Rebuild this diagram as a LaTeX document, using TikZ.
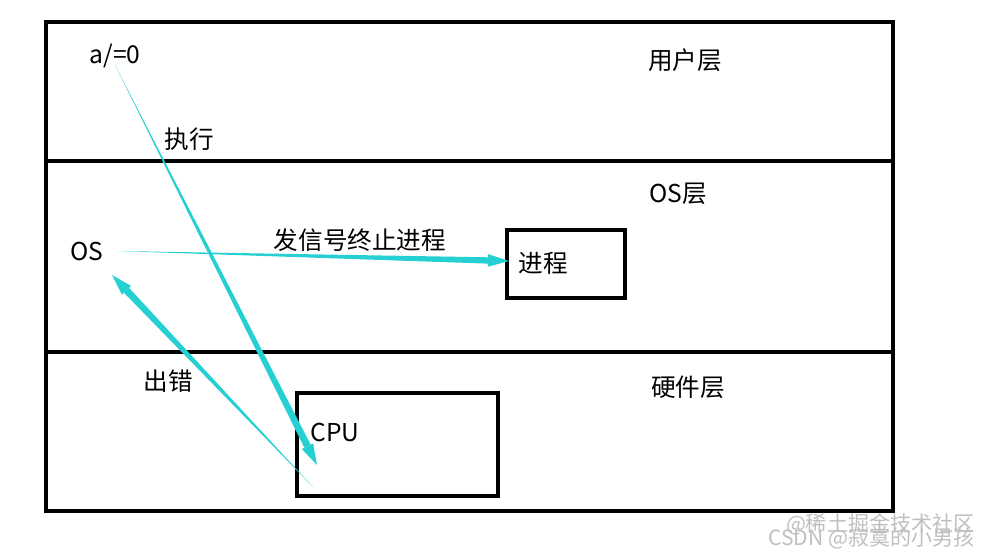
\documentclass[tikz,border=0pt]{standalone}
\usepackage{fontspec}
\setmainfont{Noto Sans}
\newfontfamily\cjk{Noto Sans CJK SC}
\usetikzlibrary{calc}
\definecolor{arrowcyan}{RGB}{38,208,210}
\tikzset{
  layer/.style={draw=black, line width=2.3pt},
  lbl/.style={font=\cjk\fontsize{14}{16}\selectfont, inner sep=1pt},
  wmark/.style={font=\cjk\fontsize{12}{14}\selectfont, text=black!25, inner sep=0pt}
}
% tapered arrow: thin start, wide end, triangle head
\newcommand{\taperarrow}[3]{%
  \coordinate (tb) at ($(#2)!12pt!(#1)$);
  \fill[arrowcyan] (#1) -- ($(tb)!#3!90:(#1)$) -- ($(tb)!#3!-90:(#1)$) -- cycle;
  \fill[arrowcyan] (#2) -- ($(tb)!3.6pt!90:(#1)$) -- ($(tb)!3.6pt!-90:(#1)$) -- cycle;
}
\begin{document}
\begin{tikzpicture}[x=0.02cm, y=-0.02cm]
    \useasboundingbox (0,0) rectangle (991,557);
    % layers
    \draw[layer] (46,22) rectangle (893,511);
    \draw[layer] (46,161) -- (893,161);
    \draw[layer] (46,352) -- (893,352);
    \draw[layer] (507,230) rectangle (625,298);
    \draw[layer] (297,393) rectangle (498,496);

    \node[lbl] (a0) at (115,56) {a/=0};
    \node[lbl] (user) at (685,60) {用户层};
    \node[lbl] (exec) at (189,139) {执行};
    \node[lbl] (oslayer) at (678,194) {OS层};
    \node[lbl] (os) at (87,251) {OS};
    \node[lbl] (signal) at (360,240) {发信号终止进程};
    \node[lbl] (proc) at (543,263) {进程};
    \node[lbl] (err) at (168,381) {出错};
    \node[lbl] (hw) at (688,387) {硬件层};
    \node[lbl] (cpu) at (335,432) {CPU};

    % end points of the arrows
    \coordinate (s1) at (115,65);
    \coordinate (e1) at (317,465);
    \coordinate (s2) at (117,251);
    \coordinate (e2) at (509,261);
    \coordinate (s3) at (313,487);
    \coordinate (e3) at (112,275);

    \taperarrow{s1}{e1}{2pt}
    \taperarrow{s2}{e2}{1.8pt}
    \taperarrow{s3}{e3}{2pt}

    \node[wmark, anchor=south east] (wm1) at (975,535) {@稀土掘金技术社区};
    \node[wmark, anchor=south east] (wm2) at (975,549) {CSDN @寂寞的小男孩};
\end{tikzpicture}
\end{document}
